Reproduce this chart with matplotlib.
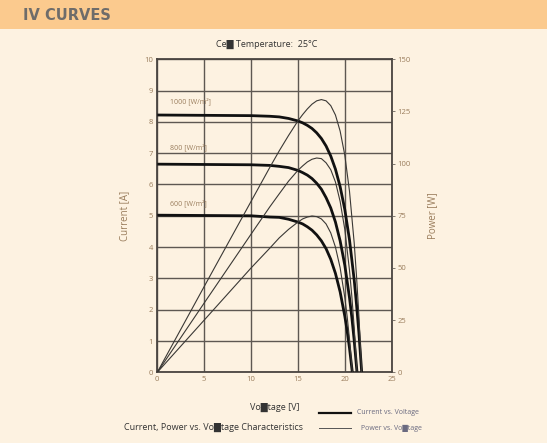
import matplotlib
matplotlib.use('Agg')
import matplotlib.pyplot as plt
from matplotlib.patches import Rectangle
from matplotlib.lines import Line2D

plt.rcParams.update({'font.family': ['Open Sans', 'DejaVu Sans'], 'font.size': 6})

# I-V and P-V readings per irradiance level
v_1000 = [0, 5, 10, 12, 13, 14, 15, 15.5, 16, 16.5, 17, 17.5, 18, 18.5, 19, 19.5, 20, 20.5, 21, 21.25, 21.5, 21.8]
i_1000 = [8.22, 8.21, 8.20, 8.18, 8.16, 8.11, 8.03, 7.97, 7.89, 7.79, 7.65, 7.47, 7.23, 6.91, 6.49, 5.93,
          5.20, 4.23, 2.95, 2.16, 1.27, 0]
p_1000 = [0, 41.1, 81.9, 98.2, 106.1, 113.5, 120.5, 123.5, 126.2, 128.5, 130.1, 130.7, 130.1, 127.8, 123.3,
          115.6, 104.0, 86.7, 62.0, 45.9, 27.3, 0]

v_800 = [0, 5, 10, 12, 13, 14, 15, 15.5, 16, 16.5, 17, 17.5, 18, 18.5, 19, 19.5, 20, 20.5, 20.75, 21, 21.3]
i_800 = [6.65, 6.64, 6.63, 6.61, 6.58, 6.54, 6.45, 6.38, 6.30, 6.19, 6.04, 5.85, 5.58, 5.25, 4.80, 4.20,
         3.42, 2.38, 1.75, 1.02, 0]
p_800 = [0, 33.2, 66.2, 79.3, 85.5, 91.6, 96.8, 98.9, 100.8, 102.1, 102.7, 102.4, 100.4, 97.1, 91.2, 81.9,
         68.4, 48.8, 36.3, 21.4, 0]

v_600 = [0, 5, 10, 12, 13, 14, 15, 15.5, 16, 16.5, 17, 17.5, 18, 18.5, 19, 19.5, 20, 20.25, 20.5, 20.8]
i_600 = [5.02, 5.01, 5.00, 4.96, 4.95, 4.89, 4.80, 4.74, 4.65, 4.54, 4.39, 4.20, 3.95, 3.61, 3.16, 2.57,
         1.79, 1.32, 0.77, 0]
p_600 = [0, 25.0, 50.0, 59.5, 64.4, 68.5, 72.0, 73.5, 74.4, 74.9, 74.6, 73.5, 71.1, 66.8, 60.0, 50.1,
         35.8, 26.7, 15.8, 0]

curve_labels = ['1000 [W/m²]', '800 [W/m²]', '600 [W/m²]']
label_pos = [(1.4, 8.67), (1.4, 7.2), (1.4, 5.4)]

x_ticks = [0, 5, 10, 15, 20, 25]
i_ticks = list(range(0, 11))
p_ticks = [0, 25, 50, 75, 100, 125, 150]

bg = '#fdf2e1'
band = '#fbca8e'
txt = '#9a7d5c'
grid_c = '#5e5852'

fig = plt.figure(figsize=(5.47, 4.46), dpi=100, facecolor=bg)

# header band
fig.patches.append(Rectangle((0, 1 - 29 / 446), 1, 29 / 446, transform=fig.transFigure,
                             facecolor=band, edgecolor='none', zorder=0))
fig.patches.append(Rectangle((0, 0), 1, 3 / 446, transform=fig.transFigure,
                             facecolor='white', edgecolor='none', zorder=0))
fig.text(23 / 547, 1 - 16 / 446, 'IV CURVES', fontsize=10.5, fontweight='bold',
         family='DejaVu Sans', color='#6e6c6a', va='center', ha='left')

ax = fig.add_axes([157.3 / 547, 1 - 372.3 / 446, 234.4 / 547, 313 / 446])
ax.set_facecolor(bg)
ax.set_xlim(0, 25)
ax.set_ylim(0, 10)
ax.set_xticks(x_ticks)
ax.set_yticks(i_ticks)
ax.grid(True, color=grid_c, linewidth=1.0)
ax.set_axisbelow(True)
for s in ax.spines.values():
    s.set_color('#4a4541')
    s.set_linewidth(1.3)
ax.tick_params(length=0, labelsize=5.5, labelcolor=txt, pad=3)
ax.set_ylabel('Current [A]', color=txt, fontsize=7, labelpad=10)
ax.set_xlabel('Vo█tage [V]', color='#333333', fontsize=6.5, labelpad=14)

for v, i in [(v_1000, i_1000), (v_800, i_800), (v_600, i_600)]:
    ax.plot(v, i, color='#111111', linewidth=2.0, solid_capstyle='butt', zorder=3)

for lab, (x, y) in zip(curve_labels, label_pos):
    ax.text(x, y, lab, fontsize=5, color=txt, va='center', ha='left')

ax2 = ax.twinx()
ax2.set_ylim(0, 150)
ax2.set_yticks(p_ticks)
ax2.tick_params(direction='out', length=2, width=0.6, color='#6b645c',
                labelsize=5.5, labelcolor=txt, pad=2)
for s in ax2.spines.values():
    s.set_visible(False)
ax2.set_ylabel('Power [W]', color=txt, fontsize=7, labelpad=12)
for v, p in [(v_1000, p_1000), (v_800, p_800), (v_600, p_600)]:
    ax2.plot(v, p, color='#3a3835', linewidth=0.8, zorder=3)

fig.text(267 / 547, 1 - 44 / 446, 'Ce█ Temperature:  25°C', fontsize=6.5,
         color='#333333', ha='center', va='center')
fig.text(124 / 547, 1 - 427 / 446, 'Current, Power vs. Vo█tage Characteristics',
         fontsize=6.5, color='#333333', ha='left', va='center')

# legend
fig.lines.append(Line2D([319 / 547, 351 / 547], [1 - 413 / 446] * 2, transform=fig.transFigure,
                        color='#111111', linewidth=1.6))
fig.lines.append(Line2D([319 / 547, 351 / 547], [1 - 428 / 446] * 2, transform=fig.transFigure,
                        color='#555555', linewidth=0.7))
fig.text(357 / 547, 1 - 412 / 446, 'Current vs. Voltage', fontsize=5, color='#6a6a80',
         ha='left', va='center')
fig.text(361 / 547, 1 - 428 / 446, 'Power vs. Vo█tage', fontsize=5, color='#6a6a80',
         ha='left', va='center')

fig.savefig('out.png', dpi=100, facecolor=bg)
